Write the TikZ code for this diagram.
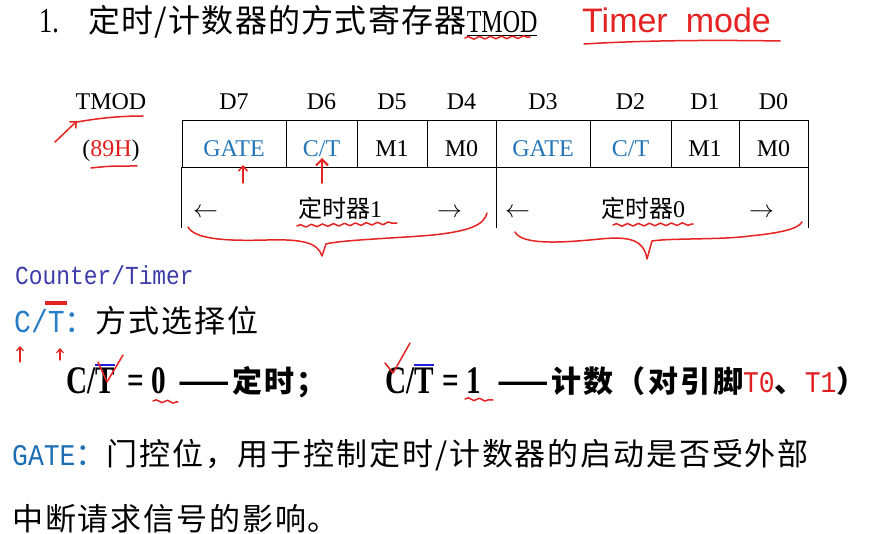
\documentclass[tikz,border=0pt]{standalone}
\usepackage{fontspec}
\setmainfont{Liberation Serif}
\newfontfamily\cjk{Noto Sans CJK SC}
\newfontfamily\cjkw[LetterSpace=4]{Noto Sans CJK SC}
\newfontfamily\cjkv[LetterSpace=6]{Noto Sans CJK SC}
\newfontfamily\cjkb[LetterSpace=8]{Noto Sans CJK SC}
\newfontfamily\cond[FakeStretch=0.75]{Liberation Serif}
\newfontfamily\monoc[FakeStretch=0.88]{Liberation Mono}
\newfontfamily\hand{Liberation Sans}
\usetikzlibrary{arrows.meta,decorations.pathmorphing}

\definecolor{tblue}{RGB}{36,118,184}
\definecolor{cblue}{RGB}{40,125,200}
\definecolor{gblue}{RGB}{30,110,180}
\definecolor{cpurple}{RGB}{60,60,170}
\definecolor{oblue}{RGB}{30,30,220}
\definecolor{tred}{RGB}{225,30,30}
\definecolor{hred}{RGB}{230,35,35}

\newcommand{\ctlabel}{C/T}

\begin{document}
\begin{tikzpicture}[x=1pt, y=-1pt,
    tab/.style={font=\fontsize{24}{28}\selectfont, inner sep=0pt},
    cell/.style={tab, draw, line width=0.8pt, minimum height=47pt,
                 text height=26pt, text depth=0pt},
    half/.style={minimum height=61pt, inner sep=0pt},
    big/.style={font=\fontsize{31}{34}\selectfont, inner sep=0pt, anchor=base west},
    bold/.style={font=\cond\fontsize{39}{42}\selectfont\bfseries, inner sep=0pt, anchor=base west},
    boldcjk/.style={bold, font=\cjkb\fontsize{30}{33}\selectfont\bfseries},
    hand/.style={draw=hred, line width=1.5pt, line cap=round, line join=round},
    wave/.style={hand, decorate, decoration={snake, amplitude=1.3pt, segment length=11pt}},
    barb/.style={-{Straight Barb[length=5pt,width=9pt]}},
    ovl/.style={draw=oblue, line width=2.6pt}]
  \fill[white] (0,0) rectangle (880,534);
  \useasboundingbox (0,0) rectangle (880,534);

  % title
  \node[big, font=\cond\fontsize{35}{38}\selectfont] (num) at (39,33) {1.};
  \node[big, font=\fontsize{32}{35}\selectfont] (title) at (88,33) {\cjkw 定时/计数器的方式寄存器{\cond\fontsize{32}{35}\selectfont\underline{TMOD}}};
  \node[anchor=base west, inner sep=0pt, text=hred, font=\hand\fontsize{34}{38}\selectfont] (note) at (582,33) {Timer\hspace{18pt}mode};

  % register TMOD
  \node[tab, anchor=base] (reg) at (111,110) {TMOD};
  \node[tab, anchor=base] (val) at (111,157) {(\textcolor{tred}{89H})};
  \foreach \name/\l/\r/\txt/\col/\bit in {
      g1/182/286/GATE/tblue/D7, c1/286/357/\ctlabel/tblue/D6,
      m11/357/427/M1/black/D5, m01/427/496/M0/black/D4,
      g0/496/590/GATE/tblue/D3, c0/590/671/\ctlabel/tblue/D2,
      m10/671/739/M1/black/D1, m00/739/808/M0/black/D0} {
    \node[cell, text=\col, minimum width=\r pt-\l pt] (\name) at ({(\l+\r)/2},143.5) {\txt};
    \node[tab, anchor=base] (d\name) at ([yshift=10pt]\name.north) {\bit};
  }
  \node[half, minimum width=314pt] (tmr1) at (339,197.5) {};
  \node[half, minimum width=312pt] (tmr0) at (652,197.5) {};
  \draw[line width=0.8pt] (tmr1.north west) -- (tmr1.south west)
    (tmr1.north east) -- (tmr1.south east)
    (tmr0.north east) -- (tmr0.south east);
  \node[tab, anchor=base west] (la1) at (193,218) {$\leftarrow$};
  \node[tab, anchor=base] (n1) at (340,218) {{\cjk 定时器}1};
  \node[tab, anchor=base west] (ra1) at (437,218) {$\rightarrow$};
  \node[tab, anchor=base west] (la0) at (505,218) {$\leftarrow$};
  \node[tab, anchor=base] (n0) at (643,218) {{\cjk 定时器}0};
  \node[tab, anchor=base west] (ra0) at (749,218) {$\rightarrow$};

  % C/T bit
  \node[big, text=cpurple, font=\monoc\fontsize{26}{30}\selectfont] (ctname) at (15,285) {Counter/Timer};
  \node[big, text=cblue] (ctsel) at (14,333) {{\monoc\fontsize{32}{34}\selectfont C/T}{\cjkv ：}{\color{black}\cjkv 方式选择位}};
  \node[bold] (ct0) at (66,393) {C/T};
  \node[bold] (eq0) at (127,393) {= 0};
  \node[boldcjk] (def0) at (178,392) {——定时；};
  \node[bold] (ct1) at (385,393) {C/T};
  \node[bold] (eq1) at (442,393) {= 1};
  \node[boldcjk] (def1) at (497,392) {——计数（对引脚{\mdseries\monoc\color{tred}T0}、{\mdseries\monoc\color{tred}T1}）};
  \draw[ovl] ([xshift=-20pt,yshift=2pt]ct0.north east) -- ([yshift=2pt]ct0.north east);
  \draw[ovl] ([xshift=-20pt,yshift=2pt]ct1.north east) -- ([yshift=2pt]ct1.north east);

  % GATE bit
  \node[big, text=gblue] (gate) at (12,465) {{\monoc\fontsize{30}{34}\selectfont GATE}{\cjkv ：}{\color{black}\cjkv 门控位，用于控制定时/计数器的启动是否受外部}};
  \node[big] (gate2) at (12,530) {\cjkv 中断请求信号的影响。};

  % red pen marks
  \draw[wave] (465,38) -- (530,37);
  \draw[hand] (584,44) .. controls (650,40) and (720,40) .. (780,41);
  \draw[hand, barb] (55,142) -- (77,121);
  \draw[hand] (77,122) .. controls (100,118) and (120,116) .. (143,116);
  \draw[hand] (91,168) .. controls (110,166) .. (137,166);
  \draw[hand, barb] (243,183) -- (243,165);
  \draw[hand, line width=2pt, -{Straight Barb[length=6pt,width=12pt]}] (322,183) -- (322,158);
  \draw[wave] (297,226) -- (397,223);
  \draw[wave] (613,225) -- (693,224);
  \draw[hand] (188,227) .. controls (195,240) and (230,241) .. (267,240)
    .. controls (300,239) and (318,242) .. (322,256)
    -- (326,244) .. controls (340,240) and (400,238) .. (433,235)
    .. controls (470,231) and (484,225) .. (487,213);
  \draw[hand] (515,232) .. controls (522,245) and (560,243) .. (600,239)
    .. controls (630,236) and (644,240) .. (647,259)
    -- (652,241) .. controls (670,238) and (720,240) .. (750,236)
    .. controls (780,233) and (798,229) .. (802,222);
  \draw[hand, line width=3.5pt, line cap=butt] (45,303) -- (67,303);
  \draw[hand, line width=1.2pt, -{Straight Barb[length=4pt,width=7pt]}] (20,362) -- (20,346);
  \draw[hand, line width=1.2pt, -{Straight Barb[length=4pt,width=7pt]}] (60,360) -- (60,348);
  \draw[hand] (98,362) -- (107,382) -- (123,355);
  \draw[hand] (385,363) -- (393,373) -- (410,343);
  \draw[wave] (153,401) -- (178,402);
  \draw[wave] (465,399) -- (493,400);
\end{tikzpicture}
\end{document}
